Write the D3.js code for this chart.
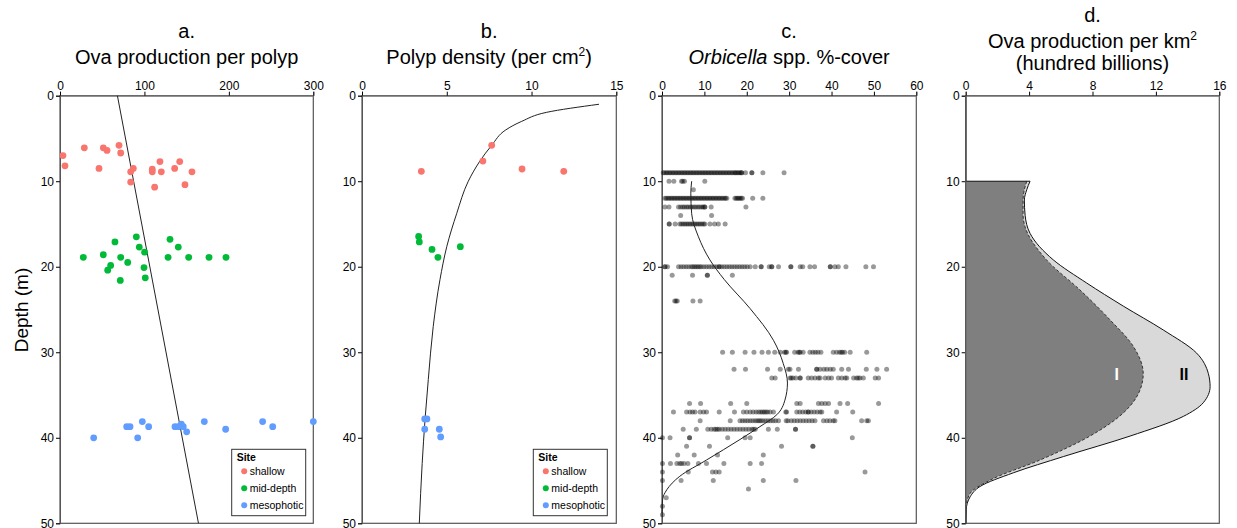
<!DOCTYPE html>
<html><head><meta charset="utf-8">
<script src="https://cdn.jsdelivr.net/npm/d3@7"></script>
<style>
html,body{margin:0;padding:0;background:#fff;}
svg{display:block;font-family:"Liberation Sans",Arial,sans-serif;}
</style></head><body>
<svg id="chart" width="1237" height="528"></svg>
<script>
// ---------- DATA ----------
const depthTicks = [0, 10, 20, 30, 40, 50];
const ticksA = [0, 100, 200, 300];
const ticksB = [0, 5, 10, 15];
const ticksC = [0, 10, 20, 30, 40, 50, 60];
const ticksD = [0, 4, 8, 12, 16];
const siteNames = ["shallow", "mid-depth", "mesophotic"];
const siteColors = ["#F8766D", "#00BA38", "#619CFF"];

// a. ova per polyp [value, depth]
const ovaShallow = [[3.5,7.0],[5.9,8.2],[28.8,6.1],[51.3,6.1],[55.7,6.4],[69.9,5.8],[71.9,6.7],[46.2,8.5],[86.8,8.5],[83.7,8.9],[83.7,10.1],[109.3,8.6],[109.3,8.9],[118.4,7.7],[120,8.9],[112.1,10.7],[135.8,8.5],[141.8,7.7],[148,10.4],[156.3,8.9]];
const ovaMid = [[27.6,18.9],[51.3,18.6],[65.1,17.1],[60,19.85],[56.5,20.4],[71.9,18.9],[80.2,19.5],[71.4,21.6],[90.4,16.5],[93.9,17.7],[100.2,18.3],[99.5,20.1],[101,21.3],[128,18.9],[130.3,16.8],[140.1,17.7],[152.4,18.9],[176.5,18.9],[196.6,18.9]];
const ovaMeso = [[39.9,40.0],[79,38.7],[82.9,38.7],[97.5,38.1],[105,38.7],[92,40.0],[136.2,38.7],[140.1,38.7],[143.7,38.4],[146,38.7],[150,39.3],[170.9,38.1],[196.2,39.0],[240,38.1],[251.9,38.7],[300,38.1]];
const ovaFit = [[68,0],[164,50]];

// b. polyp density [value, depth]
const densShallow = [[3.5,8.84],[7.13,7.64],[7.65,5.8],[9.44,8.57],[11.9,8.84]];
const densMid = [[3.34,16.45],[3.38,17.1],[4.13,17.97],[4.48,18.9],[5.8,17.65]];
const densMeso = [[3.7,37.8],[3.83,37.8],[3.7,39.0],[4.56,39.0],[4.64,39.9]];
const densFit = [[13.98,1.0],[10.9,1.94],[9.42,3.0],[8.48,4.0],[7.65,5.8],[6.96,7.63],[6.27,10],[5.59,13.75],[5.0,17.65],[4.6,21.5],[4.2,27],[3.91,33.2],[3.72,37.8],[3.55,43],[3.38,50]];

// c. Orbicella % cover, values per surveyed depth
const cover09 = [0.3,0.6,1,1.3,1.7,2,2.4,2.7,3.1,3.4,3.8,4.1,4.5,4.8,5.2,5.5,5.9,6.2,6.6,6.9,7.3,7.6,8,8.3,8.7,9,9.4,9.7,10.1,10.4,10.8,11.1,11.5,11.8,12.2,12.5,12.9,13.2,13.6,13.9,14.3,14.6,15,15.3,15.7,16,16.4,16.7,17.1,17.3,17.6,17.9,18.2,18.5,18.8,18.8,19.7,21.2,21.2,23.8,28.8];
const cover10 = [1.65,2.8,4.6,4.9,5.3,10.1];
const cover11 = [7.4];
const cover12 = [0.7,1,1.4,1.7,2.1,2.4,2.8,3.1,3.5,3.8,4.2,4.5,4.9,5.2,5.6,5.9,6.3,6.6,7,7.3,7.7,8,8.4,8.7,9.1,9.4,9.8,10.1,10.5,10.8,11.2,11.5,11.9,12.2,12.6,12.9,13.3,13.6,14,14.3,14.7,15,15.3,17.2,17.5,17.8,18.1,18.4,18.7,19,21.4,23.8];
const cover13 = [0.7,1.65,3.9,4.4,4.9,5.3,5.8,6.2,6.7,7.1,7.6,8,8.5,8.9,9.4,9.7,10.1,10.1,11.6,19.8];
const cover14 = [4.4,11.7];
const cover15 = [1.7,1.7,3.1,4.2,4.6,5,5.4,5.8,6.2,6.6,7,7.4,7.8,8.2,8.6,9,9.4,9.8,10.1,11.3,12.4,13.3,14.9];
const cover20 = [0.7,0.7,1.3,3.9,4.5,5.1,5.7,6.3,6.9,7.3,7.7,8.1,8.5,8.9,9.3,9.9,10.5,11.1,11.7,12.3,12.9,13.5,13.5,14.1,14.7,15.3,15.9,16.5,17.1,17.7,18.3,18.9,19.5,20.1,20.8,22,23.4,23.4,25.3,25.9,25.9,27.5,30.4,30.4,32.6,33.2,34.9,36,39.7,39.7,40.8,41.6,43.4,48.1,49.9];
const cover21 = [2.4,7.2,10.7,10.7,16.6];
const cover24 = [3.0,3.3,3.6,7.3,9.0];
const cover30 = [14.3,16.6,19.6,21.7,23.6,25.1,26.6,27.9,28.9,29.2,29.4,31.3,32.1,32.4,32.6,33.3,34.9,35.6,36.2,36.8,37.5,40.4,41.2,41.9,42.3,42.6,43.1,44.4,48.3];
const cover32 = [17,19.7,24.9,27.9,29.8,30.2,32.2,36.5,36.5,37.3,38.2,38.9,39.7,40.4,42.4,44,48.2,50.7,53];
const cover33 = [25.9,26.7,30.2,30.5,30.9,31.6,32.6,32.6,34.5,35.3,36.1,36.9,37.3,38.5,39.3,40,41.6,42.4,43.2,43.6,45.2,45.9,46.3,46.7,47.5,50.3,51.1];
const cover36 = [6.5,9.1,16.2,20,31.8,32.6,36.9,37.7,38.5,39.3,42,43.8,51.1];
const cover37 = [2.7,5.8,6.6,7.2,7.8,9,9.8,10.5,13.5,17.1,19.2,20,20.8,21.5,22.2,22.8,23.3,23.7,24.1,24.5,24.9,25.5,26.3,29.2,29.4,31.8,32.5,33.2,33.9,34.5,34.5,35.2,35.9,36.6,37.3,37.7,41.2,45];
const cover38 = [9,16.1,18.4,19,19.6,20.2,20.8,21.4,22,22.5,22.9,23.3,23.8,24.4,25,25.6,26.2,26.8,27.5,29.3,29.7,30.5,31.2,31.9,32.6,33.3,34,34.7,35.4,36.1,38.1,38.9,39.6,40.4,40.8,47.1,48.3,48.7];
const cover39 = [5,8.1,10.8,11.6,12.3,12.7,13.1,13.5,14.2,14.9,15.6,16.3,17,17.7,18.4,19.1,19.8,20.5,21.2,21.6,22,25.1,27.2,31.5,31.5];
const cover40 = [0.1,1.9,6.5,6.5,15.5,19.6,20.8,44.9];
const cover41 = [5.8,11.2,28.2,35.6,35.6];
const cover42 = [3.7,7.6,13.1,23.9];
const cover43 = [0.1,2,3.5,4.2,4.6,5.2,6.1,8.6,10.5,14.6,20.8,23.5];
const cover44 = [0.1,6.2,11.9,12.7,13.5,47.9];
const cover45 = [0.1,4.5,12.1,23.9,31.6];
const cover46 = [20.4];
const cover47 = [1.0];
const cover48 = [0.1];
const cover49 = [0.1];
const coverDepths = [9,10,11,12,13,14,15,20,21,24,30,32,33,36,37,38,39,40,41,42,43,44,45,46,47,48,49];
const coverRows = [cover09,cover10,cover11,cover12,cover13,cover14,cover15,cover20,cover21,cover24,cover30,cover32,cover33,cover36,cover37,cover38,cover39,cover40,cover41,cover42,cover43,cover44,cover45,cover46,cover47,cover48,cover49];
const coverFit = [[7,10],[6.8,11.4],[7,13.8],[8.6,16.5],[11.3,19.2],[14.7,21.5],[20.8,24.9],[26.3,28.6],[28.6,31.3],[29.6,33.6],[29,35.6],[27.1,37.3],[23.1,38.7],[18.4,40.2],[10.5,42.6],[4.2,44.5],[1.1,46.1],[0.15,47.2],[0,48.8]];

// d. ova production per km2 [value, depth]
const prodII = [[4.06,10],[3.85,11],[3.7,12.2],[3.75,14],[4.06,16.1],[5.53,19.2],[7.63,21.9],[9.94,24.6],[12.47,27.4],[14.57,30.1],[15.31,32.5],[15.42,34],[14.99,35.9],[13.73,37.5],[10.37,39.8],[6.16,42.2],[3.0,44.1],[0.9,45.7],[0.28,46.9],[0.03,48.4],[0,50]];
const prodI = [[3.85,10],[3.7,11],[3.62,12.2],[3.62,14],[3.74,15.3],[5.1,19.2],[7.2,22.7],[9.1,26.2],[10.57,29.3],[11.2,32.5],[11.0,34.4],[9.94,37.1],[7.84,39.8],[4.69,42.6],[1.6,44.9],[0.28,46.5],[0.03,48],[0,50]];

// ---------- LAYOUT ----------
const svg = d3.select("#chart");
const plotTop = 95.7, plotBottom = 523.3;
const y = d3.scaleLinear().domain([0, 50]).range([plotTop, plotBottom]);
const FONT = '"Liberation Sans",Arial,sans-serif';
const TITLE_FS = 20;

function panel(x0, x1, domainMax, ticks, letter, titleFn, letterY) {
  const x = d3.scaleLinear().domain([0, domainMax]).range([x0, x1]);
  const g = svg.append("g");
  g.append("rect").attr("x", x0).attr("y", plotTop).attr("width", x1 - x0).attr("height", plotBottom - plotTop)
    .attr("fill", "none").attr("stroke", "#555").attr("stroke-width", 1.2);
  const ax = g.append("g").attr("transform", `translate(0,${plotTop})`)
    .call(d3.axisTop(x).tickValues(ticks).tickSize(4).tickPadding(2).tickFormat(d3.format("d")));
  ax.select(".domain").attr("stroke", "#777");
  ax.selectAll("text").attr("font-size", 12).attr("font-family", FONT).attr("fill", "#000");
  const ay = g.append("g").attr("transform", `translate(${x0},0)`)
    .call(d3.axisLeft(y).tickValues(depthTicks).tickSize(4).tickPadding(2));
  ay.select(".domain").attr("stroke", "#555");
  ay.selectAll("text").attr("font-size", 12).attr("font-family", FONT).attr("fill", "#000");
  const cx = (x0 + x1) / 2;
  g.append("text").attr("x", cx).attr("y", letterY).attr("text-anchor", "middle")
    .attr("font-size", TITLE_FS).attr("font-family", FONT).text(letter);
  titleFn(g, cx);
  return {x, g};
}

function title(g, cx, yy, parts) {
  const t = g.append("text").attr("x", cx).attr("y", yy).attr("text-anchor", "middle")
    .attr("font-size", TITLE_FS).attr("font-family", FONT);
  parts.forEach(p => {
    const s = t.append("tspan").text(p.t);
    if (p.i) s.attr("font-style", "italic");
    if (p.sup) s.attr("font-size", 12).attr("dy", -8);
  });
}

function legend(g, xr) {
  const w = 74, h = 66.4, lx = xr - w, ly = 449.3;
  g.append("rect").attr("x", lx).attr("y", ly).attr("width", w).attr("height", h)
    .attr("fill", "#fff").attr("stroke", "#333").attr("stroke-width", 1);
  g.append("text").attr("x", lx + 5).attr("y", ly + 12).attr("font-size", 10.5).attr("font-weight", "bold")
    .attr("font-family", FONT).text("Site");
  siteNames.forEach((n, i) => {
    const yy = ly + 22 + i * 17;
    g.append("circle").attr("cx", lx + 12.5).attr("cy", yy).attr("r", 3).attr("fill", siteColors[i]);
    g.append("text").attr("x", lx + 18).attr("y", yy + 4).attr("font-size", 10.5).attr("font-family", FONT).text(n);
  });
}

function dots(g, x, data, color, r) {
  g.selectAll(null).data(data).enter().append("circle")
    .attr("cx", d => x(d[0])).attr("cy", d => y(d[1])).attr("r", r).attr("fill", color);
}

svg.append("text").attr("transform", `translate(28,310) rotate(-90)`).attr("text-anchor", "middle")
  .attr("font-size", 19).attr("font-family", FONT).text("Depth (m)");

// ---- Panel a
const pa = panel(60, 313.3, 300, ticksA, "a.", (g, cx) => title(g, cx, 64, [{t: "Ova production per polyp"}]), 38);
pa.g.append("line").attr("x1", pa.x(ovaFit[0][0])).attr("y1", y(ovaFit[0][1]))
  .attr("x2", pa.x(ovaFit[1][0])).attr("y2", y(ovaFit[1][1])).attr("stroke", "#222").attr("stroke-width", 1);
dots(pa.g, pa.x, ovaShallow, siteColors[0], 3.4);
dots(pa.g, pa.x, ovaMid, siteColors[1], 3.4);
dots(pa.g, pa.x, ovaMeso, siteColors[2], 3.4);
legend(pa.g, 305.7);

// ---- Panel b
const pb = panel(362, 616.3, 15, ticksB, "b.", (g, cx) => title(g, cx, 64, [{t: "Polyp density (per cm"}, {t: "2", sup: true}, {t: ")", back: true}]), 38);
pb.g.selectAll("tspan").filter(function(){ return this.textContent === ")"; }).attr("dy", 8);
pb.g.append("path").datum(densFit)
  .attr("d", d3.line().x(d => pb.x(d[0])).y(d => y(d[1])).curve(d3.curveMonotoneY))
  .attr("fill", "none").attr("stroke", "#222").attr("stroke-width", 1);
dots(pb.g, pb.x, densShallow, siteColors[0], 3.4);
dots(pb.g, pb.x, densMid, siteColors[1], 3.4);
dots(pb.g, pb.x, densMeso, siteColors[2], 3.4);
legend(pb.g, 607.3);

// ---- Panel c
const pc = panel(662, 916.3, 60, ticksC, "c.", (g, cx) => title(g, cx, 64, [{t: "Orbicella", i: true}, {t: " spp. %-cover"}]), 38);
const coverPts = [];
coverRows.forEach((row, i) => row.forEach(v => coverPts.push([v, coverDepths[i]])));
dots(pc.g, pc.x, coverPts, "rgba(0,0,0,0.4)", 2.5);
pc.g.append("path").datum(coverFit)
  .attr("d", d3.line().x(d => pc.x(d[0])).y(d => y(d[1])).curve(d3.curveMonotoneY))
  .attr("fill", "none").attr("stroke", "#222").attr("stroke-width", 1);

// ---- Panel d
const pd = panel(965.7, 1219.3, 16, ticksD, "d.", (g, cx) => {
  title(g, cx, 48, [{t: "Ova production per km"}, {t: "2", sup: true}]);
  title(g, cx, 70, [{t: "(hundred billions)"}]);
}, 22);
const areaGen = d3.area().y(d => y(d[1])).x0(pd.x(0)).x1(d => pd.x(d[0])).curve(d3.curveMonotoneY);
const lineGen = d3.line().x(d => pd.x(d[0])).y(d => y(d[1])).curve(d3.curveMonotoneY);
pd.g.append("path").datum(prodII).attr("d", areaGen).attr("fill", "#D9D9D9");
pd.g.append("path").datum(prodII).attr("d", lineGen).attr("fill", "none").attr("stroke", "#111").attr("stroke-width", 1);
pd.g.append("path").datum(prodI).attr("d", areaGen).attr("fill", "#7F7F7F");
pd.g.append("path").datum(prodI).attr("d", lineGen).attr("fill", "none").attr("stroke", "#333")
  .attr("stroke-width", 1).attr("stroke-dasharray", "3,2");
pd.g.append("line").attr("x1", pd.x(0)).attr("x2", pd.x(prodII[0][0])).attr("y1", y(10)).attr("y2", y(10))
  .attr("stroke", "#111").attr("stroke-width", 1);
pd.g.append("text").attr("x", 1116.7).attr("y", 380).attr("text-anchor", "middle").attr("font-size", 16)
  .attr("font-weight", "bold").attr("font-family", FONT).attr("fill", "#fff").text("I");
pd.g.append("text").attr("x", 1184).attr("y", 380).attr("text-anchor", "middle").attr("font-size", 16)
  .attr("font-weight", "bold").attr("font-family", FONT).attr("fill", "#000").text("II");
pd.g.append("line").attr("x1", pd.x(0)).attr("x2", pd.x(0)).attr("y1", plotTop).attr("y2", plotBottom)
  .attr("stroke", "#555").attr("stroke-width", 1.2);
</script>
</body></html>
